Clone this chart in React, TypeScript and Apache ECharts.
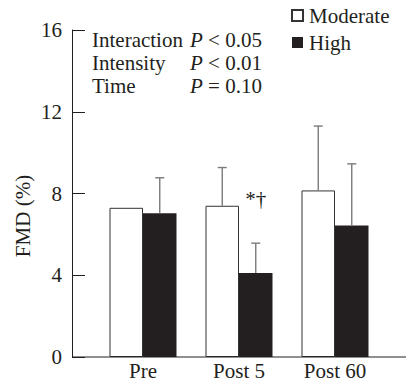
import React, { useEffect, useRef } from "react";
import * as echarts from "echarts";

const categories = ["Pre", "Post 5", "Post 60"];
const moderateMeans = [7.3, 7.4, 8.15];
const moderateErrTops: (number | null)[] = [null, 9.27, 11.3];
const highMeans = [7.03, 4.11, 6.44];
const highErrTops: (number | null)[] = [8.77, 5.57, 9.45];
const highMarks = ["", "*†", ""];
const yTicks = [0, 4, 8, 12, 16];
const statNames = ["Interaction", "Intensity", "Time"];
const statValues = ["< 0.05", "< 0.01", "= 0.10"];

const FONT = "'Liberation Serif', 'Times New Roman', serif";
const FS = 21;
const INK = "#231f20";
const BAR_W = 33.5;

export default function App() {
  const ref = useRef<HTMLDivElement>(null);
  useEffect(() => {
    if (!ref.current) return;
    const chart = echarts.init(ref.current, undefined, { renderer: "svg" });

    const errSeries = (name: string, means: number[], tops: (number | null)[], side: number, marks?: string[]) => ({
      type: "custom",
      name: name + "-err",
      z: 5,
      silent: true,
      encode: { x: 0, y: [1, 2] },
      data: means.map((m, i) => [i, m, tops[i] == null ? m : tops[i]]),
      renderItem: (params: any, api: any) => {
        const i = api.value(0);
        const base = api.coord([i, api.value(1)]);
        const top = api.coord([i, api.value(2)]);
        const x = base[0] + (side * BAR_W) / 2;
        const children: any[] = [];
        if (tops[params.dataIndex] != null) {
          children.push({
            type: "line",
            shape: { x1: x, y1: base[1], x2: x, y2: top[1] },
            style: { stroke: "#7a7a7a", lineWidth: 1.4 },
          });
          children.push({
            type: "line",
            shape: { x1: x - 4.5, y1: top[1], x2: x + 4.5, y2: top[1] },
            style: { stroke: "#7a7a7a", lineWidth: 1.4 },
          });
        }
        const mk = marks ? marks[params.dataIndex] : "";
        if (mk) {
          children.push({
            type: "text",
            x: x,
            y: top[1] - 44,
            style: {
              text: mk,
              font: `${FS}px ${FONT}`,
              fill: INK,
              align: "center",
              verticalAlign: "middle",
            },
          });
        }
        return { type: "group", children };
      },
    });

    const statGraphics: any[] = [];
    statNames.forEach((n, k) => {
      statGraphics.push({
        type: "text",
        left: 92,
        top: 29 + k * 23,
        style: { text: n, font: `${FS}px ${FONT}`, fill: INK },
      });
      statGraphics.push({
        type: "text",
        left: 190,
        top: 29 + k * 23,
        style: {
          text: `{i|P} ${statValues[k]}`,
          font: `${FS}px ${FONT}`,
          fill: INK,
          rich: { i: { fontStyle: "italic", fontSize: FS, fontFamily: FONT, fill: INK } as any },
        },
      });
    });

    chart.setOption({
      animation: false,
      textStyle: { fontFamily: FONT, color: INK },
      grid: { left: 95, right: 23, top: 30, bottom: 25 },
      legend: {
        orient: "vertical",
        left: 291,
        top: 5,
        padding: 0,
        itemGap: 6,
        itemWidth: 11,
        itemHeight: 11,
        icon: "rect",
        data: ["Moderate", "High"],
        textStyle: { fontSize: FS, fontFamily: FONT, color: INK, padding: [3, 0, 0, 1] },
      },
      xAxis: {
        type: "category",
        data: categories,
        axisLine: { show: false },
        axisTick: { show: false },
        axisLabel: { fontSize: FS, fontFamily: FONT, color: INK, margin: 3 },
      },
      yAxis: {
        type: "value",
        min: yTicks[0],
        max: yTicks[yTicks.length - 1],
        interval: yTicks[1] - yTicks[0],
        offset: 23,
        splitLine: { show: false },
        axisLine: { show: true, lineStyle: { color: INK, width: 1 } },
        axisTick: { show: true, inside: true, length: 13, lineStyle: { color: INK, width: 1 } },
        axisLabel: { fontSize: FS, fontFamily: FONT, color: INK, margin: 10 },
      },
      graphic: [
        {
          type: "line",
          shape: { x1: 72, y1: 357, x2: 406, y2: 357 },
          style: { stroke: INK, lineWidth: 1 },
          z: 10,
        },
        {
          type: "text",
          x: 23,
          y: 216,
          rotation: Math.PI / 2,
          style: {
            text: "FMD (%)",
            font: `${FS}px ${FONT}`,
            fill: INK,
            align: "center",
            verticalAlign: "middle",
          },
        },
        ...statGraphics,
      ],
      series: [
        {
          type: "bar",
          name: "Moderate",
          data: moderateMeans,
          barWidth: BAR_W,
          barGap: "0%",
          itemStyle: { color: "#ffffff", borderColor: "#333333", borderWidth: 1 },
        },
        {
          type: "bar",
          name: "High",
          data: highMeans,
          barWidth: BAR_W,
          barGap: "0%",
          itemStyle: { color: INK },
        },
        errSeries("Moderate", moderateMeans, moderateErrTops, -1),
        errSeries("High", highMeans, highErrTops, 1, highMarks),
      ],
    });
    return () => chart.dispose();
  }, []);
  return (
    <div
      ref={ref}
      style={{ position: "fixed", left: 0, top: 0, width: 406, height: 382, background: "#fff" }}
    />
  );
}
